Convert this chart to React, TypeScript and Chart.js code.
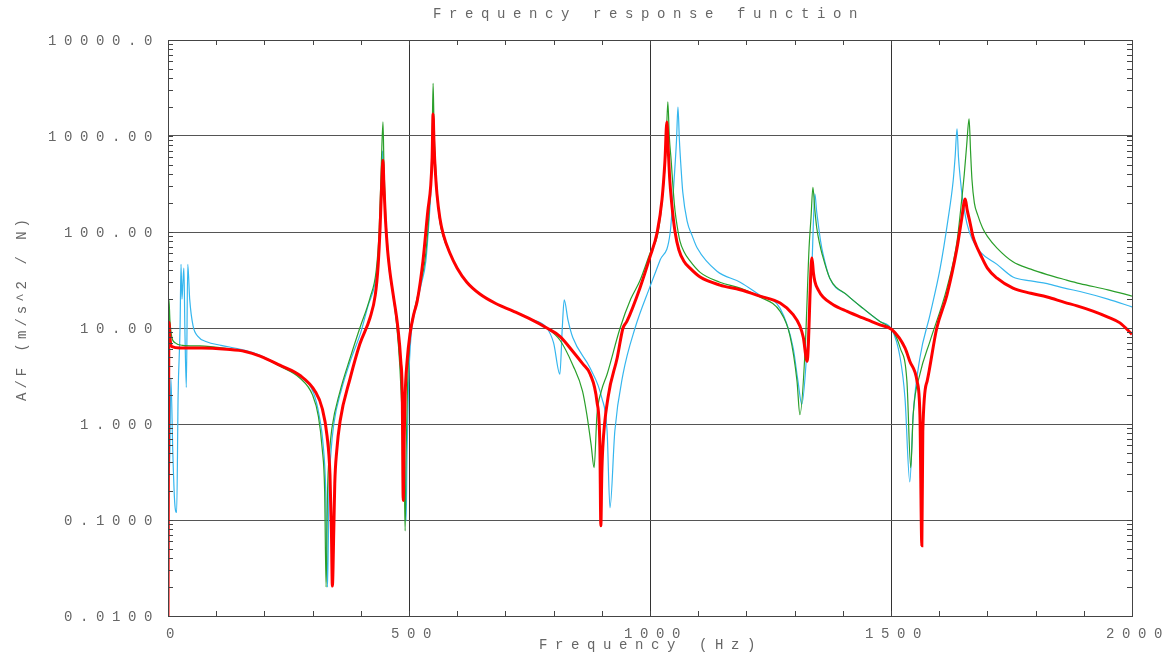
import { useEffect, useRef } from 'react';
import { Chart, registerables } from 'chart.js';

Chart.register(...registerables);

// ---- tick labels / axis values ----
const xTickValues = [0, 100, 200, 300, 400, 500, 600, 700, 800, 900, 1000, 1100, 1200, 1300, 1400, 1500, 1600, 1700, 1800, 1900, 2000];
const xMajorValues = [0, 500, 1000, 1500, 2000];
const xTickLabels = ['0', '500', '1000', '1500', '2000'];
const yDecades = [0.01, 0.1, 1, 10, 100, 1000, 10000];
const yTickLabels = ['0.0100', '0.1000', '1.000', '10.00', '100.00', '1000.00', '10000.0'];
const yMinorMultipliers = [1, 2, 3, 4, 5, 6, 7, 8, 9];

const titleText = 'Frequency response function';
const xTitleText = 'Frequency (Hz)';
const yTitleText = 'A/F (m/s^2 / N)';

// ---- series: red (thick, measured) ----
const redFreq = [0, 1, 2, 4, 8, 25, 70, 122, 160, 191, 232, 274, 305, 320, 330, 336, 339, 341, 344, 346, 350, 357, 378, 398, 419, 430, 436, 440, 443, 446, 448, 451, 455, 460, 467, 477, 483, 486, 488, 490, 492, 496, 502, 510, 517, 529, 539, 545, 548, 550, 552, 555, 558, 564, 571, 585, 600, 620, 647, 680, 716, 750, 786, 813, 840, 861, 876, 890, 896, 898, 900, 902, 913, 932, 944, 952, 979, 1000, 1015, 1025, 1031, 1035, 1038, 1041, 1045, 1052, 1060, 1070, 1083, 1104, 1145, 1187, 1228, 1270, 1297, 1311, 1318, 1326, 1336, 1339, 1342, 1349, 1359, 1380, 1409, 1440, 1477, 1502, 1529, 1539, 1554, 1560, 1564, 1566, 1575, 1595, 1616, 1637, 1646, 1654, 1658, 1664, 1670, 1677, 1685, 1700, 1720, 1753, 1790, 1824, 1860, 1886, 1919, 1950, 1975, 2000];
const redAmp = [0.01, 0.6, 11.5, 8, 6.4, 6.2, 6.2, 6.0, 5.7, 5.1, 4.1, 3.2, 2.2, 1.45, 0.75, 0.3, 0.08, 0.0205, 0.08, 0.24, 0.52, 1.07, 3.0, 6.8, 12.7, 22, 45, 110, 280, 560, 300, 140, 70, 40, 22.6, 10, 4.5, 2.0, 0.16, 0.7, 2.0, 4.5, 8.6, 14, 19, 50, 165, 300, 600, 1700, 800, 400, 250, 140, 95, 60, 42, 30, 22.6, 18, 15, 12.5, 10, 8.2, 5.7, 4.2, 3.3, 1.7, 0.6, 0.087, 0.3, 0.56, 1.9, 4.9, 10, 11.7, 26, 55, 100, 220, 550, 1400, 700, 350, 200, 100, 65, 50, 42, 34, 28, 25, 21.5, 18.2, 13.8, 10.5, 8, 4.5, 53.6, 38, 30.6, 25, 21, 17.5, 14.9, 12.8, 10.8, 9.6, 6.2, 4.5, 2.8, 1.25, 0.054, 0.84, 2.8, 10, 22, 68, 130, 221, 170, 125, 90, 72, 59, 42, 33, 26, 23, 21, 18.5, 17, 15, 13, 11.3, 8.6];

// ---- series: green ----
const greenFreq = [0, 2, 4, 8, 15, 30, 66, 122, 160, 191, 232, 274, 300, 312, 320, 325, 328, 331, 335, 340, 357, 378, 398, 419, 432, 438, 442, 446, 448, 451, 455, 460, 467, 475, 481, 486, 490, 492, 494, 497, 502, 512, 523, 533, 540, 546, 548, 550, 552, 555, 558, 564, 571, 585, 600, 620, 647, 680, 716, 750, 786, 813, 840, 860, 869, 878, 884, 890, 899, 911, 938, 960, 979, 1000, 1017, 1028, 1033, 1037, 1040, 1044, 1048, 1052, 1057, 1062, 1070, 1083, 1104, 1145, 1187, 1228, 1270, 1290, 1305, 1311, 1322, 1330, 1334, 1338, 1342, 1346, 1352, 1357, 1373, 1409, 1442, 1477, 1502, 1519, 1533, 1541, 1546, 1560, 1581, 1616, 1637, 1645, 1652, 1657, 1662, 1665, 1668, 1673, 1680, 1690, 1700, 1720, 1753, 1790, 1824, 1860, 1892, 1950, 2000];
const greenAmp = [0.9, 20, 12, 8, 7, 6.6, 6.5, 6.1, 5.7, 5.1, 4.0, 3.0, 2.0, 1.2, 0.55, 0.2, 0.02, 0.2, 0.5, 0.9, 2.2, 4.9, 10, 20.5, 40, 100, 400, 1400, 500, 180, 80, 40, 22, 10, 4, 1.2, 0.35, 0.077, 0.5, 2.5, 8, 16, 28, 50, 120, 400, 900, 3540, 1200, 500, 280, 130, 90, 60, 42, 30, 22.6, 18, 15, 12.5, 10, 7.5, 4.1, 2.2, 1.25, 0.6, 0.35, 1.25, 2.2, 3.3, 10, 20, 31, 60, 100, 300, 700, 2270, 1000, 550, 280, 165, 110, 81, 63, 50, 38, 30, 26, 21, 14.9, 8.5, 2.8, 1.25, 6.2, 68, 140, 292, 170, 110, 75, 59, 33, 22, 16, 11.7, 9.6, 6.2, 2.8, 0.35, 1.25, 3.3, 7.3, 26, 80, 180, 400, 800, 1510, 700, 350, 200, 150, 110, 90, 68, 49, 41, 36, 32, 29, 25, 21.5];

// ---- series: light blue ----
const blueFreq = [0, 1, 3, 6, 10, 14, 18, 21, 25, 27, 29, 31, 33, 35, 38, 41, 45, 52, 62, 80, 110, 150, 191, 232, 274, 302, 314, 322, 327, 331, 334, 338, 344, 360, 380, 400, 415, 430, 437, 441, 445, 447, 450, 454, 459, 467, 476, 482, 487, 491, 494, 496, 499, 504, 514, 525, 535, 541, 547, 550, 552, 555, 558, 564, 571, 585, 600, 620, 647, 680, 716, 750, 786, 800, 813, 818, 822, 830, 840, 876, 900, 911, 917, 927, 944, 969, 1000, 1021, 1042, 1048, 1055, 1058, 1061, 1064, 1068, 1077, 1088, 1098, 1139, 1187, 1228, 1270, 1297, 1307, 1315, 1326, 1336, 1342, 1346, 1349, 1354, 1359, 1373, 1409, 1442, 1477, 1502, 1519, 1529, 1539, 1546, 1560, 1581, 1602, 1618, 1629, 1633, 1637, 1640, 1644, 1648, 1653, 1658, 1668, 1685, 1720, 1753, 1790, 1824, 1860, 1892, 1950, 2000];
const blueAmp = [0.02, 6, 0.3, 3, 0.5, 0.15, 0.12, 2, 10, 46, 20, 30, 42, 10, 2.4, 46, 20, 10.5, 8.2, 7.2, 6.6, 6.0, 5.2, 4.1, 3.1, 2.1, 1.2, 0.6, 0.22, 0.02, 0.2, 0.5, 1.0, 2.3, 4.8, 9, 17, 30, 60, 150, 700, 350, 160, 80, 40, 22, 10, 4, 1.3, 0.4, 0.098, 0.5, 2.5, 8, 16, 28, 50, 120, 400, 1550, 800, 400, 230, 130, 90, 60, 42, 30, 22.6, 18, 15, 12.5, 10, 7, 3.3, 10, 19.6, 12, 7.9, 3.8, 1.87, 0.84, 0.134, 0.84, 3.3, 10, 27, 51, 100, 250, 900, 2000, 900, 500, 260, 130, 90, 68, 39, 30, 22, 16, 6.2, 2.8, 1.6, 6.2, 46, 249, 160, 122, 80, 59, 33, 22, 16, 11.7, 9.6, 4.9, 1.87, 0.25, 1.25, 4.9, 13.8, 42, 132, 342, 600, 1190, 600, 350, 230, 160, 120, 85, 62, 46, 34, 31, 29, 26, 24, 20, 16.6];

const FONT_FAMILY = '"Liberation Mono", "DejaVu Sans Mono", monospace';
const TEXT_COLOR = '#666666';
const SPACING = 7.6;

const toPoints = (fs: number[], vs: number[]) => fs.map((f, i) => ({ x: f, y: vs[i] }));

const isDecade = (v: number) => Math.abs(Math.log10(v) - Math.round(Math.log10(v))) < 1e-6;

const decorPlugin = {
  id: 'decor',
  beforeDraw(chart: any) {
    (chart.ctx as any).letterSpacing = SPACING + 'px';
  },
  afterDraw(chart: any) {
    const ctx = chart.ctx as CanvasRenderingContext2D;
    const { left, right, top, bottom } = chart.chartArea;
    const xs = chart.scales.x;
    const ys = chart.scales.y;
    ctx.save();
    // frame
    ctx.strokeStyle = '#444444';
    ctx.lineWidth = 1;
    ctx.strokeRect(Math.round(left) + 0.5, Math.round(top) + 0.5, Math.round(right - left), Math.round(bottom - top));
    // minor tick marks inside the frame
    ctx.beginPath();
    xs.ticks.forEach((t: any) => {
      const px = Math.round(xs.getPixelForValue(t.value)) + 0.5;
      ctx.moveTo(px, bottom);
      ctx.lineTo(px, bottom - 5);
      ctx.moveTo(px, top);
      ctx.lineTo(px, top + 5);
    });
    ys.ticks.forEach((t: any) => {
      const py = Math.round(ys.getPixelForValue(t.value)) + 0.5;
      ctx.moveTo(left, py);
      ctx.lineTo(left + 5, py);
      ctx.moveTo(right, py);
      ctx.lineTo(right - 5, py);
    });
    ctx.stroke();
    // texts
    (ctx as any).letterSpacing = SPACING + 'px';
    ctx.fillStyle = TEXT_COLOR;
    ctx.font = '14px ' + FONT_FAMILY;
    ctx.textBaseline = 'middle';
    ctx.textAlign = 'center';
    const cx = (left + right) / 2;
    ctx.fillText(titleText, cx - 1, 14);
    ctx.fillText(xTitleText, cx + 1, bottom + 29);
    (ctx as any).letterSpacing = '4px';
    ctx.translate(22, 308);
    ctx.rotate(-Math.PI / 2);
    ctx.fillText(yTitleText, 0, 0);
    ctx.restore();
    (ctx as any).letterSpacing = '0px';
  },
};

export default function App() {
  const canvasRef = useRef<HTMLCanvasElement | null>(null);

  useEffect(() => {
    if (!canvasRef.current) return;
    const common = { pointRadius: 0, tension: 0, fill: false, cubicInterpolationMode: 'monotone' as const };
    const chart = new Chart(canvasRef.current, {
      type: 'line',
      data: {
        datasets: [
          { label: 'Red', data: toPoints(redFreq, redAmp), borderColor: '#ff0000', borderWidth: 3, ...common },
          { label: 'Green', data: toPoints(greenFreq, greenAmp), borderColor: '#2a9f2a', borderWidth: 1.2, ...common },
          { label: 'Blue', data: toPoints(blueFreq, blueAmp), borderColor: '#35b6ee', borderWidth: 1.2, ...common },
        ],
      },
      options: {
        responsive: false,
        animation: false,
        devicePixelRatio: 1,
        layout: { padding: { top: 40, right: 40, left: 0, bottom: 0 } },
        plugins: {
          legend: { display: false },
          tooltip: { enabled: false },
          title: { display: false },
        },
        scales: {
          x: {
            type: 'linear',
            min: 0,
            max: 2000,
            afterBuildTicks: (scale: any) => {
              scale.ticks = xTickValues.map((v) => ({ value: v }));
            },
            afterFit: (scale: any) => {
              scale.height = 41;
            },
            ticks: {
              autoSkip: false,
              maxRotation: 0,
              padding: 10,
              labelOffset: 6,
              color: TEXT_COLOR,
              font: { family: FONT_FAMILY, size: 14 },
              callback: (value: any) => {
                const i = xMajorValues.indexOf(Number(value));
                return i >= 0 ? xTickLabels[i] : '';
              },
            },
            grid: {
              drawTicks: false,
              lineWidth: 1,
              color: (ctx: any) => {
                const v = ctx.tick ? ctx.tick.value : -1;
                return v % 500 === 0 && v > 0 && v < 2000 ? '#333333' : 'rgba(0,0,0,0)';
              },
            },
            border: { display: false },
          },
          y: {
            type: 'logarithmic',
            min: 0.01,
            max: 10000,
            afterBuildTicks: (scale: any) => {
              const ticks: { value: number }[] = [];
              yDecades.forEach((d, i) => {
                if (i === yDecades.length - 1) {
                  ticks.push({ value: d });
                } else {
                  yMinorMultipliers.forEach((m) => ticks.push({ value: +(d * m).toPrecision(6) }));
                }
              });
              scale.ticks = ticks;
            },
            afterFit: (scale: any) => {
              scale.width = 168;
            },
            ticks: {
              autoSkip: false,
              padding: 8,
              labelOffset: 1,
              color: TEXT_COLOR,
              font: { family: FONT_FAMILY, size: 14 },
              callback: (value: any) => {
                const v = Number(value);
                if (!isDecade(v)) return '';
                const i = yDecades.findIndex((d) => Math.abs(d - v) / d < 1e-6);
                return i >= 0 ? yTickLabels[i] : '';
              },
            },
            grid: {
              drawTicks: false,
              lineWidth: 1,
              color: (ctx: any) => {
                const v = ctx.tick ? ctx.tick.value : 2;
                return isDecade(v) && v > 0.011 && v < 9999 ? '#555555' : 'rgba(0,0,0,0)';
              },
            },
            border: { display: false },
          },
        },
      },
      plugins: [decorPlugin],
    });
    return () => chart.destroy();
  }, []);

  return (
    <div style={{ position: 'absolute', left: 0, top: 0, width: 1172, height: 657, background: '#ffffff' }}>
      <canvas ref={canvasRef} width={1172} height={657} style={{ display: 'block', width: 1172, height: 657 }} />
    </div>
  );
}
